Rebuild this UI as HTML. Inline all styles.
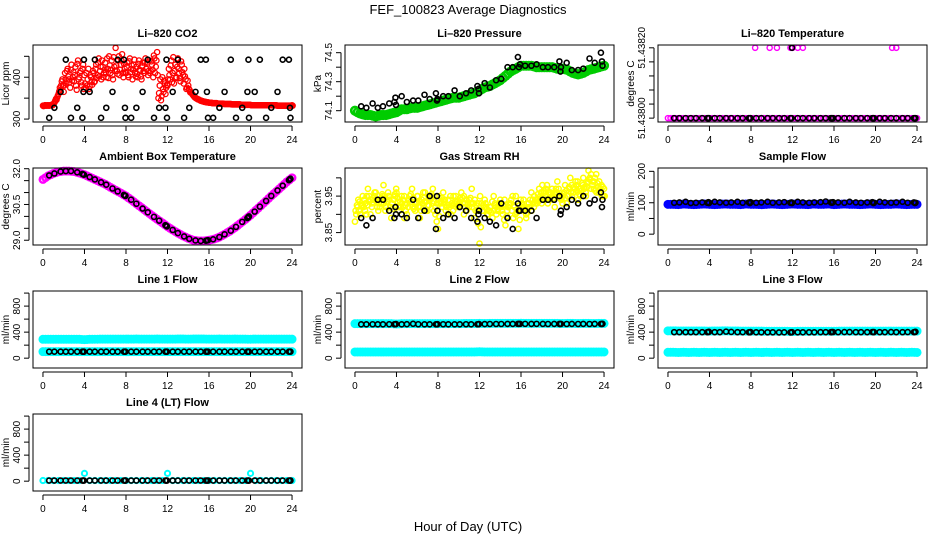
<!DOCTYPE html>
<html><head><meta charset="utf-8"><title>FEF_100823 Average Diagnostics</title>
<style>
html,body{margin:0;padding:0;background:#fff;}
svg{display:block;font-family:"Liberation Sans",Arial,sans-serif;}
</style></head>
<body>
<svg id="chart" width="936" height="540" viewBox="0 0 936 540" xmlns="http://www.w3.org/2000/svg">
<text x="468" y="14" text-anchor="middle" font-size="13">FEF_100823  Average Diagnostics</text>
<text x="468" y="531" text-anchor="middle" font-size="13">Hour of Day (UTC)</text>
</svg>
<script>
// ---- data ----
const xTicks = [0,4,8,12,16,20,24];
const blackT = [0.6,1.1,1.7,2.2,2.7,3.3,3.8,3.9,3.95,4.5,5.0,5.6,6.1,6.7,7.2,7.8,7.9,7.95,8.5,9.0,9.6,10.1,10.7,11.2,11.8,11.9,11.95,12.5,13.0,13.6,14.1,14.7,15.2,15.7,15.8,15.9,16.4,17.0,17.5,18.1,18.6,19.2,19.7,19.8,19.85,20.4,20.9,21.5,22.0,22.6,23.1,23.7,23.8,23.85];

const co2Red = [332,332,333,332,333,332,333,334, 336,340,348,352,360,375,380,395, 365,410,385,420,395,375,430,400, 390,425,370,440,400,415,380,430, 405,375,380,420,378,400,382,410, 390,430,405,445,415,395,425,410, 435,400,420,450,410,440,395,425, 470,415,440,405,430,455,400,420, 410,435,400,445,420,395,430,410, 425,400,440,415,395,435,410,445, 420,405,440,415,430,400,445,425, 460,350,380,345,400,365,385,375, 380,420,395,440,410,385,430,400, 445,410,390,430,405,420,395,375, 380,370,365,360,356,352,350,348, 347,345,344,343,342,341,340,340, 339,339,339,338,338,338,338,337, 337,337,337,337,336,336,336,336, 336,336,335,335,335,335,335,335, 335,334,334,334,334,334,334,334, 334,333,333,333,333,333,333,333, 333,333,333,333,333,333,333,333, 333,333,333,333,333,332,332,332, 332,332,332,332,332,332,332,332, 333];
const co2RedB = [331,333,332,333,332,333,334,333, 338,344,346,356,366,370,390,380, 380,395,415,402,388,418,392,412, 405,380,432,395,410,388,420,372, 385,410,395,372,405,390,415,388, 420,398,435,402,425,440,400,418, 412,445,398,428,418,405,448,415, 428,408,450,418,440,410,432,412, 425,405,438,412,428,418,442,402, 408,432,418,402,428,415,435,420, 435,415,410,438,418,452,410,440, 405,362,395,355,372,392,360,382, 395,405,428,388,448,415,398,425, 420,398,438,412,385,402,372,392, 372,364,362,358,354,351,349,347, 346,344,343,342,341,341,340,340, 339,339,338,338,338,338,337,337, 337,337,337,336,336,336,336,336, 336,335,335,335,335,335,335,335, 334,334,334,334,334,334,334,334, 333,333,333,333,333,333,333,333, 333,333,333,333,333,333,333,333, 333,333,333,333,332,332,332,332, 332,332,332,332,332,332,332,332, 332];
const co2Black = [303,327,365,442,303,327,303,365,442,365,442,303,327,365,442,442,327,303,303,327,365,442,303,327,327,442,303,365,442,303,327,365,442,442,365,303,303,327,365,442,303,327,365,442,303,365,442,303,327,365,442,442,327,303];

const presGreen = [74.10,74.08,74.07,74.07,74.06,74.07,74.07,74.08,74.09,74.11,74.11,74.12,74.12,74.13,74.14,74.15,74.16,74.17,74.18,74.19,74.19,74.20,74.21,74.22,74.24,74.26,74.27,74.29,74.31,74.34,74.37,74.39,74.41,74.41,74.41,74.40,74.40,74.40,74.40,74.39,74.39,74.38,74.36,74.35,74.36,74.38,74.39,74.40,74.41];
const presBlack = [74.13,74.12,74.15,74.12,74.13,74.15,74.16,74.19,74.14,74.20,74.16,74.17,74.17,74.21,74.18,74.22,74.17,74.18,74.20,74.20,74.24,74.20,74.22,74.24,74.27,74.25,74.22,74.29,74.26,74.31,74.32,74.40,74.40,74.47,74.40,74.42,74.41,74.41,74.42,74.40,74.40,74.40,74.44,74.37,74.40,74.43,74.38,74.38,74.39,74.46,74.43,74.50,74.44,74.41];

const tempMag = [51.438,51.438,51.438,51.438,51.438,51.438,51.438,51.438,51.438,51.438,51.438,51.438,51.438,51.438,51.438,51.438,51.438,51.438,51.438,51.438,51.438,51.438,51.438,51.438,51.438,51.438,51.438,51.438,51.438,51.438,51.438,51.438,51.438,51.438,51.438,51.438,51.438,51.438,51.438,51.438,51.438,51.438,51.438,51.438,51.438,51.438,51.438,51.438,51.438];
const tempHighT = [8.4,9.8,10.5,11.8,12.0,12.5,13.0,21.6,22.0];
const tempHighV = [51.4382,51.4382,51.4382,51.4382,51.4382,51.4382,51.4382,51.4382,51.4382];
const tempBlack = [51.438,51.438,51.438,51.438,51.438,51.438,51.438,51.438,51.438,51.438,51.438,51.438,51.438,51.438,51.438,51.438,51.438,51.438,51.438,51.438,51.438,51.438,51.438,51.438,51.438,51.438,51.4382,51.438,51.438,51.438,51.438,51.438,51.438,51.438,51.438,51.438,51.438,51.438,51.438,51.438,51.438,51.438,51.438,51.438,51.438,51.438,51.438,51.438,51.438,51.438,51.438,51.438,51.438,51.438];

const ambMag = [31.55,31.7,31.8,31.87,31.9,31.9,31.88,31.82,31.75,31.65,31.55,31.45,31.35,31.22,31.1,30.98,30.85,30.7,30.53,30.37,30.2,30.04,29.88,29.73,29.57,29.43,29.3,29.18,29.08,29.0,28.97,28.97,29.0,29.05,29.13,29.25,29.38,29.53,29.7,29.87,30.05,30.25,30.45,30.65,30.86,31.05,31.25,31.45,31.62];
const ambBlack = [31.72,31.8,31.88,31.9,31.9,31.85,31.78,31.76,31.75,31.65,31.55,31.43,31.33,31.17,31.05,30.9,30.87,30.86,30.7,30.53,30.33,30.17,29.98,29.82,29.63,29.6,29.58,29.43,29.3,29.16,29.06,28.99,28.97,28.98,28.99,29.0,29.04,29.13,29.25,29.4,29.56,29.77,29.93,29.97,30.0,30.2,30.41,30.65,30.86,31.09,31.29,31.52,31.56,31.58];

const rhYellow = [3.88,3.92,3.90,3.95, 3.93,3.97,3.90,3.94, 3.96,3.91,3.93,3.98, 3.92,3.95,3.89,3.94, 3.96,3.91,3.93,3.95, 3.90,3.94,3.97,3.92, 3.95,3.89,3.93,3.96, 3.91,3.94,3.97,3.90, 3.86,3.93,3.96,3.91, 3.94,3.90,3.95,3.92, 3.93,3.96,3.90,3.94, 3.92,3.97,3.89,3.93, 3.82,3.91,3.94,3.90, 3.92,3.89,3.93,3.91, 3.94,3.90,3.87,3.92, 3.93,3.89,3.95,3.86, 3.91,3.94,3.89,3.92, 3.96,3.92,3.94,3.97, 3.93,3.96,3.98,3.94, 3.97,3.92,3.99,3.95, 3.93,3.98,3.95,4.00, 3.96,3.99,3.94,3.97, 4.00,3.95,4.02,3.97, 3.99,4.01,3.96,3.98, 3.97];
const rhYellowB = [3.91,3.94,3.93,3.92, 3.90,3.95,3.93,3.96, 3.92,3.94,3.95,3.91, 3.96,3.92,3.94,3.97, 3.92,3.95,3.89,3.93, 3.95,3.92,3.91,3.95, 3.92,3.96,3.91,3.94, 3.95,3.91,3.93,3.95, 3.92,3.94,3.90,3.95, 3.91,3.95,3.92,3.94, 3.95,3.91,3.94,3.92, 3.94,3.91,3.95,3.91, 3.93,3.90,3.92,3.95, 3.90,3.93,3.91,3.94, 3.91,3.93,3.95,3.90, 3.91,3.94,3.92,3.90, 3.93,3.91,3.95,3.93, 3.94,3.98,3.95,3.93, 3.96,3.94,3.97,3.95, 3.94,3.96,3.93,3.97, 3.95,3.97,3.99,3.95, 3.98,3.96,3.99,4.01, 3.97,3.96,3.99,3.95, 3.95];
const rhBlack = [3.89,3.87,3.89,3.94,3.94,3.91,3.89,3.92,3.90,3.90,3.89,3.94,3.89,3.91,3.95,3.86,3.95,3.91,3.89,3.90,3.89,3.92,3.91,3.89,3.88,3.90,3.91,3.89,3.88,3.87,3.93,3.89,3.86,3.93,3.91,3.91,3.91,3.91,3.89,3.94,3.94,3.94,3.95,3.90,3.91,3.92,3.94,3.93,3.95,3.93,3.94,3.96,3.92,3.94];

const sampBlue = [95,95,94,96,95,94,95,96,95,94,95,96,95,95,94,96,95,95,94,95,96,95,94,95,96,95,95,94,96,95,95,96,94,95,96,95,95,94,95,96,95,94,95,95,96,95,94,95,95];
const sampBlack = [100,101,103,99,100,101,100,102,99,103,101,100,101,103,100,101,99,102,100,101,103,100,101,102,100,101,99,103,101,100,101,102,104,101,100,102,101,100,103,101,100,101,102,99,100,103,101,100,101,103,100,101,99,100];

const l1CyanA = [290,290,290,290,290,290,290,290,285,290,291,292,292,292,293,292,293,293,294,293,293,293,294,293,292,293,294,294,293,294,294,294,293,293,294,293,293,294,293,292,291,293,293,292,293,292,292,292,292];
const l1CyanB = [100,100,100,100,100,100,100,100,100,100,100,100,100,100,100,100,100,100,100,100,100,100,100,100,100,100,100,100,100,100,100,100,100,100,100,100,100,100,100,100,100,100,100,100,100,100,100,100,100];
const l1Black = [100,100,100,100,100,100,100,100,100,100,100,100,100,100,100,100,100,100,100,100,100,100,100,100,100,100,100,100,100,100,100,100,100,100,100,100,100,100,100,100,100,100,100,100,100,100,100,100,100,100,100,100,100,100];

const l2CyanA = [530,530,530,530,530,530,530,530,525,530,531,530,531,530,531,530,530,530,531,531,530,532,533,533,534,533,534,535,535,534,535,535,536,535,534,535,535,534,535,534,533,534,534,533,534,534,533,534,534];
const l2CyanB = [95,95,95,95,95,95,95,95,95,95,95,95,95,95,95,95,95,95,95,95,95,95,95,95,98,95,95,95,95,95,95,95,95,95,95,95,95,95,95,95,95,95,95,95,95,95,95,95,95];
const l2Black = [520,520,521,520,520,521,520,521,525,520,522,528,521,520,520,520,520,522,521,520,520,520,521,520,521,522,524,524,525,525,525,526,526,527,527,527,527,526,527,526,525,526,526,525,527,525,526,525,526,525,526,526,525,528];

const l3CyanA = [420,420,418,418,418,418,417,417,415,418,418,420,418,417,416,416,415,415,415,414,414,414,414,413,410,413,414,414,414,414,414,414,414,415,415,415,415,416,416,416,415,415,416,416,416,416,416,416,416];
const l3CyanB = [90,90,88,90,88,90,88,90,88,90,88,90,88,90,88,90,88,90,88,90,88,90,88,90,88,90,88,90,88,90,88,90,88,90,88,90,88,90,88,90,88,90,88,90,88,90,88,90,88];
const l3Black = [400,400,400,400,400,400,400,402,405,400,400,408,403,400,400,398,398,402,398,398,398,398,396,397,396,397,400,398,398,398,398,400,400,400,401,402,400,401,401,400,400,400,402,400,401,400,400,401,400,400,401,400,402,405];

const l4Cyan = [10,10,10,10,10,10,10,10,120,10,10,10,10,10,10,10,10,10,10,10,10,10,10,10,120,10,10,10,10,10,10,10,10,10,10,10,10,10,10,10,120,10,10,10,10,10,10,10,10];
const l4Black = [10,10,10,10,10,10,10,10,10,10,10,10,10,10,10,10,10,10,10,10,10,10,10,10,10,10,10,10,10,10,10,10,10,10,10,10,10,10,10,10,10,10,10,10,10,10,10,10,10,10,10,10,10,10];

// ---- layout ----
const svg = document.getElementById('chart');
const NS = 'http://www.w3.org/2000/svg';
const colLeft = [33, 345, 658], rowTop = [45, 168, 291, 414];
const BW = 269, BH = 77;
const XMIN = -0.96, XMAX = 24.96;
function halfT(n){ const a=[]; for(let i=0;i<n;i++) a.push(i*24/(n-1)); return a; }

function el(tag, attrs, parent){
  const e = document.createElementNS(NS, tag);
  for (const k in attrs) e.setAttribute(k, attrs[k]);
  (parent||svg).appendChild(e);
  return e;
}

function panel(p){
  const L = colLeft[p.col], T = rowTop[p.row];
  const g = el('g', {});
  
  
  const xs = t => L + (t - XMIN) / (XMAX - XMIN) * BW;
  const ys = v => T + BH - (v - p.ylim[0]) / (p.ylim[1] - p.ylim[0]) * BH;
  const title = el('text', {x: L + BW/2, y: T - 8, 'text-anchor':'middle', 'font-size':11, 'font-weight':'bold'}, g);
  title.textContent = p.title;
  
  
  // series
  p.series.forEach(s => {
    const sg = el('g', {fill:'none', stroke:s.color, 'stroke-width':s.sw||1.4}, g);
    
    
    const n = Math.min(s.t.length, s.v.length);
    for (let i=0;i<n;i++){
      const c = el('circle', {cx: xs(s.t[i]).toFixed(2), cy: ys(s.v[i]).toFixed(2), r: s.r||3}, sg);
      
      
      if (s.dup && i < n-1) {
        const c2 = el('circle', {cx: xs((s.t[i]+s.t[i+1])/2).toFixed(2), cy: ys((s.v[i]+s.v[i+1])/2).toFixed(2), r: s.r||3}, sg);
        
        
      }
    }
  });
  // box
  const box = el('rect', {x:L, y:T, width:BW, height:BH, fill:'none', stroke:'#000', 'stroke-width':1}, g);
  
  
  // x axis
  const xa = el('g', {}, g);
  
  
  el('line', {x1:xs(xTicks[0]), x2:xs(xTicks[xTicks.length-1]), y1:T+BH+4, y2:T+BH+4, stroke:'#000'}, xa);
  xTicks.forEach(t => {
    el('line', {x1:xs(t), x2:xs(t), y1:T+BH+4, y2:T+BH+9, stroke:'#000'}, xa);
    const tx = el('text', {x:xs(t), y:T+BH+21, 'text-anchor':'middle', 'font-size':10}, xa);
    tx.textContent = t;
    
    
  });
  // y axis
  const ya = el('g', {}, g);
  
  
  const yt = p.yTicks;
  el('line', {x1:L-4, x2:L-4, y1:ys(yt[0]), y2:ys(yt[yt.length-1]), stroke:'#000'}, ya);
  yt.forEach((v,i) => {
    el('line', {x1:L-9, x2:L-4, y1:ys(v), y2:ys(v), stroke:'#000'}, ya);
    if (p.yLabels[i]) {
      const yy = ys(v), xx = L - 13;
      const tx = el('text', {x:xx, y:yy, 'text-anchor':'middle', 'font-size':10, transform:`rotate(-90 ${xx} ${yy})`}, ya);
      tx.textContent = p.yLabels[i];
      
      
    }
  });
  const yx = L - 24, yy = T + BH/2;
  const yl = el('text', {x:yx, y:yy, 'text-anchor':'middle', 'font-size':10, transform:`rotate(-90 ${yx} ${yy})`}, g);
  yl.textContent = p.ylab;
  
  
}

const flowTicks = [0,200,400,600,800,1000], flowLabels = ['0','','400','','800',''];
const flowLim = [-151, 1032];
const BR = 2.5, BSW = 1.6;

panel({name:'co2', title:'Li\u2013820 CO2', row:0, col:0, ylab:'Licor ppm', ylim:[293,477],
  yTicks:[300,350,400,450], yLabels:['300','','400',''],
  series:[{id:'red', color:'#ff0000', t:halfT(co2Red.length), v:co2Red, r:2.6, sw:1.3},
          {id:'red-b', color:'#ff0000', t:halfT(co2RedB.length).map(x=>x+0.06), v:co2RedB, r:2.6, sw:1.3},
          {id:'black', color:'#000', t:blackT, v:co2Black, r:BR, sw:BSW}]});
panel({name:'pressure', title:'Li\u2013820 Pressure', row:0, col:1, ylab:'kPa', ylim:[74.022,74.553],
  yTicks:[74.1,74.2,74.3,74.4,74.5], yLabels:['74.1','','74.3','','74.5'],
  series:[{id:'green', color:'#00cc00', t:halfT(presGreen.length), v:presGreen, r:3.8, sw:2.5, dup:true},
          {id:'black', color:'#000', t:blackT, v:presBlack, r:BR, sw:BSW}]});
panel({name:'li820-temp', title:'Li\u2013820 Temperature', row:0, col:2, ylab:'degrees C', ylim:[51.437989,51.438208],
  yTicks:[51.438,51.43804,51.43808,51.43812,51.43816,51.4382], yLabels:['51.43800','','','','','51.43820'],
  series:[{id:'magenta', color:'#ff00ff', t:halfT(tempMag.length), v:tempMag, r:2.6, dup:true},
          {id:'magenta-high', color:'#ff00ff', t:tempHighT, v:tempHighV, r:2.6},
          {id:'black', color:'#000', t:blackT, v:tempBlack, r:BR, sw:BSW}]});
panel({name:'ambient-temp', title:'Ambient Box Temperature', row:1, col:0, ylab:'degrees C', ylim:[28.8,32.03],
  yTicks:[29,29.5,30,30.5,31,31.5,32], yLabels:['29.0','','','30.5','','','32.0'],
  series:[{id:'magenta', color:'#ff00ff', t:halfT(ambMag.length), v:ambMag, r:3.2, sw:2.5, dup:true},
          {id:'black', color:'#000', t:blackT, v:ambBlack, r:BR, sw:BSW}]});
panel({name:'gas-rh', title:'Gas Stream RH', row:1, col:1, ylab:'percent', ylim:[3.816,4.027],
  yTicks:[3.85,3.90,3.95,4.00], yLabels:['3.85','','3.95',''],
  series:[{id:'yellow', color:'#ffff00', t:halfT(rhYellow.length), v:rhYellow, r:2.6, sw:1.5, dup:true},
          {id:'yellow-b', color:'#ffff00', t:halfT(rhYellowB.length).map(x=>x+0.06), v:rhYellowB, r:2.6, sw:1.5, dup:true},
          {id:'black', color:'#000', t:blackT, v:rhBlack, r:BR, sw:BSW}]});
panel({name:'sample-flow', title:'Sample Flow', row:1, col:2, ylab:'ml/min', ylim:[-34.5,210.6],
  yTicks:[0,50,100,150,200], yLabels:['0','','100','','200'],
  series:[{id:'blue', color:'#0000ff', t:halfT(sampBlue.length), v:sampBlue, r:3, sw:3, dup:true},
          {id:'black', color:'#000', t:blackT, v:sampBlack, r:BR, sw:BSW}]});
panel({name:'line1-flow', title:'Line 1 Flow', row:2, col:0, ylab:'ml/min', ylim:flowLim,
  yTicks:flowTicks, yLabels:flowLabels,
  series:[{id:'cyan-a', color:'#00ffff', t:halfT(l1CyanA.length), v:l1CyanA, r:3, sw:3, dup:true},
          {id:'cyan-b', color:'#00ffff', t:halfT(l1CyanB.length), v:l1CyanB, r:3, sw:3, dup:true},
          {id:'black', color:'#000', t:blackT, v:l1Black, r:BR, sw:BSW}]});
panel({name:'line2-flow', title:'Line 2 Flow', row:2, col:1, ylab:'ml/min', ylim:flowLim,
  yTicks:flowTicks, yLabels:flowLabels,
  series:[{id:'cyan-a', color:'#00ffff', t:halfT(l2CyanA.length), v:l2CyanA, r:3, sw:3, dup:true},
          {id:'cyan-b', color:'#00ffff', t:halfT(l2CyanB.length), v:l2CyanB, r:3, sw:3, dup:true},
          {id:'black', color:'#000', t:blackT, v:l2Black, r:BR, sw:BSW}]});
panel({name:'line3-flow', title:'Line 3 Flow', row:2, col:2, ylab:'ml/min', ylim:flowLim,
  yTicks:flowTicks, yLabels:flowLabels,
  series:[{id:'cyan-a', color:'#00ffff', t:halfT(l3CyanA.length), v:l3CyanA, r:3, sw:3, dup:true},
          {id:'cyan-b', color:'#00ffff', t:halfT(l3CyanB.length), v:l3CyanB, r:3, sw:3, dup:true},
          {id:'black', color:'#000', t:blackT, v:l3Black, r:BR, sw:BSW}]});
panel({name:'line4-flow', title:'Line 4 (LT) Flow', row:3, col:0, ylab:'ml/min', ylim:flowLim,
  yTicks:flowTicks, yLabels:flowLabels,
  series:[{id:'cyan', color:'#00ffff', t:halfT(l4Cyan.length), v:l4Cyan, r:2.6, sw:2},
          {id:'black', color:'#000', t:blackT, v:l4Black, r:BR, sw:BSW}]});
</script>
</body></html>
